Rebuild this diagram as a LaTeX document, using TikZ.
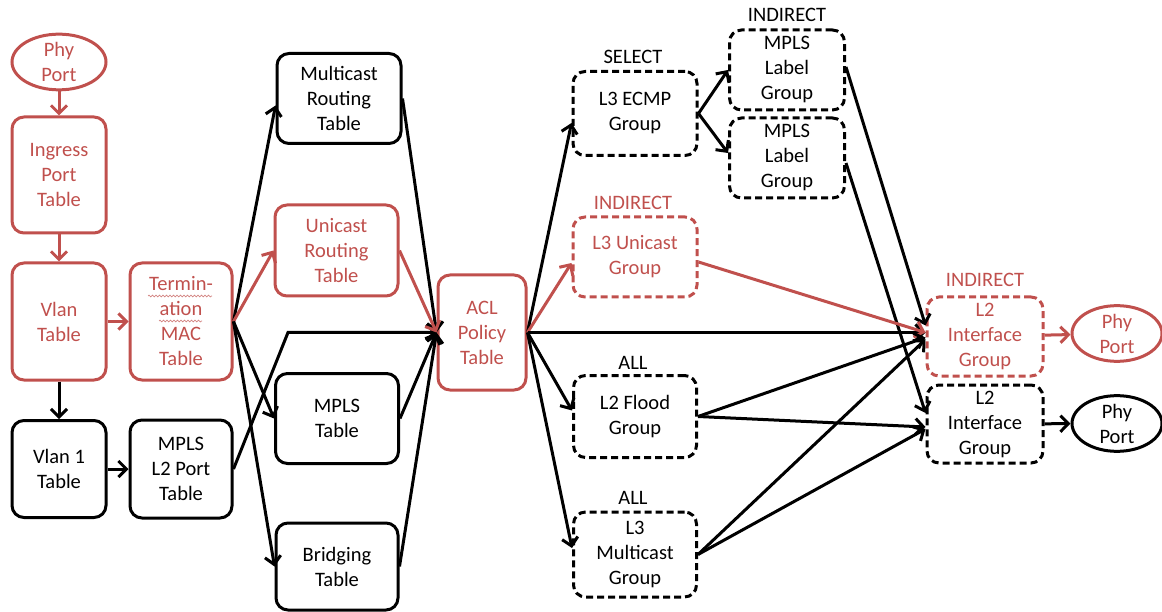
\documentclass[tikz,border=0pt]{standalone}
\usepackage{fontspec}
\setmainfont{Carlito}
\usetikzlibrary{arrows.meta,shapes.geometric,decorations.pathmorphing,calc}
\definecolor{myred}{RGB}{192,80,77}
\tikzset{
  base/.style={rectangle, rounded corners=12pt, line width=3pt, align=center, inner sep=2pt, font=\fontsize{20.5}{25}\selectfont},
  tbl/.style={base, draw=black, text=black},
  rtbl/.style={base, draw=myred, text=myred},
  grp/.style={tbl, dash pattern=on 7pt off 4pt},
  rgrp/.style={rtbl, dash pattern=on 7pt off 4pt},
  port/.style={ellipse, line width=3pt, align=center, inner sep=0pt, minimum width=90pt, minimum height=54pt, font=\fontsize{20.5}{25}\selectfont},
  arr/.style={line width=3pt, -{Straight Barb[length=8pt,width=16pt]}},
  rarr/.style={arr, draw=myred},
  lbl/.style={font=\fontsize{20.5}{25}\selectfont, inner sep=0pt},
  squig/.style={draw=myred!70, line width=0.7pt, decorate, decoration={snake, segment length=3.5pt, amplitude=0.9pt}}
}
\begin{document}
\begin{tikzpicture}[x=1pt,y=-1pt]
\useasboundingbox (0,0) rectangle (1162,612);
% left column
\node[port, draw=myred, text=myred, minimum width=94pt] (phyL) at (59,62) {Phy\\Port};
\node[rtbl, minimum width=94pt, minimum height=116pt] (ingress) at (59,175) {Ingress\\Port\\Table};
\node[rtbl, minimum width=94pt, minimum height=117pt] (vlan) at (59,321.5) {Vlan\\Table};
\node[rtbl, minimum width=102pt, minimum height=117pt] (term) at (181,321.5) {Termin-\\ation\\MAC\\Table};
\node[tbl, minimum width=94pt, minimum height=97pt] (vlan1) at (59,469) {Vlan 1\\Table};
\node[tbl, minimum width=102pt, minimum height=98pt] (mplsl2) at (181,469) {MPLS\\L2 Port\\Table};
% spell-check squiggles
\coordinate (sq1a) at (148,296); \coordinate (sq1b) at (212,296);
\coordinate (sq2a) at (159,321); \coordinate (sq2b) at (202,321);
\path[squig] (sq1a) -- (sq1b);
\path[squig] (sq2a) -- (sq2b);
% second column
\node[tbl, minimum width=124pt, minimum height=90pt] (mcast) at (339,98.5) {Multicast\\Routing\\Table};
\node[rtbl, minimum width=123pt, minimum height=91pt] (ucast) at (336.5,250.5) {Unicast\\Routing\\Table};
\node[tbl, minimum width=123pt, minimum height=90pt] (mpls) at (337,418.5) {MPLS\\Table};
\node[tbl, minimum width=122pt, minimum height=87pt] (bridge) at (337,566.5) {Bridging\\Table};
% ACL
\node[rtbl, minimum width=88pt, minimum height=115pt] (acl) at (482,332.5) {ACL\\Policy\\Table};
% groups
\node[grp, minimum width=124pt, minimum height=84pt] (ecmp) at (635,113.5) {L3 ECMP\\Group};
\node[lbl] (selL) at (633,57) {SELECT};
\node[grp, minimum width=115pt, minimum height=80pt] (mlg1) at (787,70) {MPLS\\Label\\Group};
\node[lbl] (indL1) at (787,15) {INDIRECT};
\node[grp, minimum width=115pt, minimum height=80pt] (mlg2) at (787,158) {MPLS\\Label\\Group};
\node[rgrp, minimum width=124pt, minimum height=80pt] (l3u) at (635,257) {L3 Unicast\\Group};
\node[lbl, text=myred] (indL2) at (633,203) {INDIRECT};
\node[grp, minimum width=123pt, minimum height=82pt] (flood) at (635,416.5) {L2 Flood\\Group};
\node[lbl] (allL1) at (633,363) {ALL};
\node[grp, minimum width=123pt, minimum height=85pt] (l3m) at (635,554.5) {L3\\Multicast\\Group};
\node[lbl] (allL2) at (633,498) {ALL};
\node[rgrp, minimum width=116pt, minimum height=79pt] (l2iR) at (985,336.5) {L2\\Interface\\Group};
\node[lbl, text=myred] (indL3) at (985,280) {INDIRECT};
\node[grp, minimum width=116pt, minimum height=78pt] (l2iB) at (985,424) {L2\\Interface\\Group};
\node[port, draw=myred, text=myred] (phyR) at (1117,333.5) {Phy\\Port};
\node[port, draw=black, text=black] (phyB) at (1117,423.5) {Phy\\Port};
% left edges
\draw[rarr] (phyL) -- (ingress);
\draw[rarr] (ingress) -- (vlan);
\draw[rarr] (vlan) -- (term);
\draw[arr] (vlan) -- (vlan1);
\draw[arr] (vlan1) -- (mplsl2);
% termination outgoing
\draw[arr] (term.east) -- ([yshift=-7pt]mcast.west);
\draw[rarr] (term.east) -- (ucast.west);
\draw[arr] (term.east) -- (mpls.west);
\draw[arr] (term.east) -- (bridge.west);
\coordinate (bend) at (288,332.5);
\draw[arr] (mplsl2.east) -- (bend) -- (acl.west);
% into ACL
\draw[arr] (mcast.east) -- (acl.west);
\draw[rarr] (ucast.east) -- (acl.west);
\draw[arr] (mpls.east) -- (acl.west);
\draw[arr] (bridge.east) -- (acl.west);
% ACL outgoing
\draw[arr] (acl.east) -- ([yshift=-9.5pt]ecmp.west);
\draw[rarr] (acl.east) -- ([yshift=-6pt]l3u.west);
\draw[arr] (acl.east) -- (acl.east -| l2iR.west);
\draw[arr] (acl.east) -- ([yshift=6pt]flood.west);
\draw[arr] (acl.east) -- ([yshift=6.5pt]l3m.west);
% ECMP
\draw[arr] (ecmp.east) -- (mlg1.west);
\draw[arr] (ecmp.east) -- ([yshift=5pt]mlg2.west);
% to L2 interface groups
\draw[arr] ([yshift=3pt]mlg1.east) -- ([yshift=11pt]l2iR.west);
\draw[arr] ([yshift=-5pt]mlg2.east) -- ([yshift=11pt]l2iB.west);
\draw[rarr] ([yshift=-5pt]l3u.east) -- ([yshift=4pt]l2iR.west);
\draw[arr] (flood.east) -- ([yshift=-1pt]l2iR.west);
\draw[arr] (flood.east) -- ([yshift=-3pt]l2iB.west);
\draw[arr] (l3m.east) -- ([yshift=-3pt]l2iR.west);
\draw[arr] (l3m.east) -- ([yshift=-5pt]l2iB.west);
% to ports
\draw[rarr] (l2iR) -- (phyR);
\draw[arr] (l2iB) -- (phyB);
\end{tikzpicture}
\end{document}
